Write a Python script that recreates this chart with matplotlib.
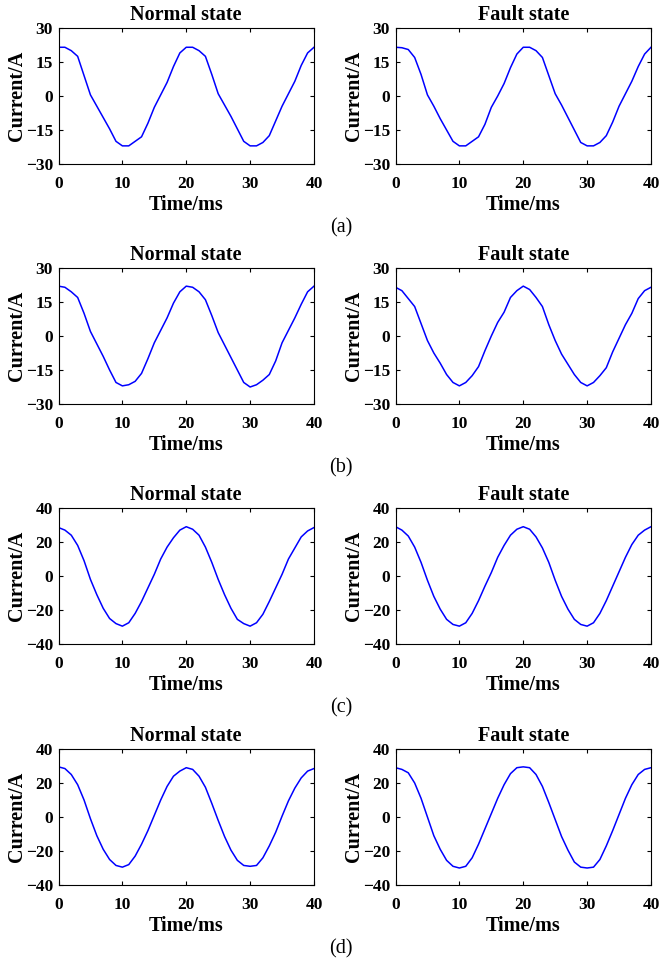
import matplotlib
matplotlib.use("Agg")
import matplotlib.pyplot as plt

plt.rcParams['font.family'] = ['Liberation Serif', 'DejaVu Serif']

# time axis, ms (1 ms steps)
time_ms = list(range(41))

# (a) currents, A
a_normal = [21.5, 21.5, 20.0, 17.5, 9.0, 0.5, -4.5, -9.5, -14.5, -20.0, -22.0,
            -22.0, -20.0, -18.0, -12.0, -5.0, 0.5, 6.0, 13.0, 19.0, 21.5,
            21.5, 20.0, 17.5, 9.5, 1.0, -4.0, -9.0, -14.5, -20.0, -22.0,
            -22.0, -20.5, -17.5, -11.0, -4.5, 1.0, 6.5, 13.5, 19.0, 21.5]
a_fault = [21.5, 21.3, 20.5, 17.0, 9.5, 0.5, -4.5, -10.0, -15.0, -20.0, -22.0,
           -22.0, -20.0, -18.0, -12.5, -5.0, 0.0, 5.5, 12.5, 18.5, 21.5,
           21.5, 20.0, 17.0, 9.0, 1.0, -4.0, -9.5, -15.0, -20.5, -22.0,
           -22.0, -20.5, -17.5, -11.5, -4.5, 1.0, 6.5, 13.0, 18.5, 21.5]

# (b)
b_normal = [22.0, 21.5, 19.5, 17.0, 10.0, 2.0, -3.5, -9.0, -15.0, -20.5, -22.0,
            -21.5, -20.0, -16.5, -10.0, -3.0, 2.5, 8.0, 14.5, 19.5, 22.0,
            21.5, 19.5, 16.0, 9.0, 1.5, -4.0, -9.5, -15.0, -20.5, -22.5,
            -21.5, -19.5, -17.0, -11.0, -3.0, 2.5, 8.0, 14.0, 19.5, 22.0]
b_fault = [21.5, 20.0, 16.5, 13.0, 5.5, -2.0, -7.5, -12.0, -17.0, -20.5, -22.0,
           -20.5, -17.5, -13.5, -6.5, 0.0, 6.0, 10.5, 17.0, 20.0, 22.0,
           20.5, 17.0, 13.0, 5.0, -2.0, -8.0, -12.5, -17.0, -20.5, -22.0,
           -20.5, -17.5, -14.0, -7.0, -1.0, 5.0, 10.0, 16.5, 20.0, 21.5]

# (c)
c_normal = [28.5, 27.0, 24.0, 18.0, 9.0, -2.0, -11.0, -19.0, -25.0, -28.0, -29.5,
            -27.5, -22.0, -15.0, -7.0, 1.0, 10.0, 17.0, 22.5, 27.0, 29.0,
            27.5, 24.0, 17.0, 8.0, -2.0, -11.0, -19.0, -25.5, -28.0, -29.5,
            -27.5, -22.5, -15.0, -7.0, 1.0, 10.0, 16.5, 23.0, 26.5, 28.5]
c_fault = [29.0, 27.0, 23.5, 17.0, 8.0, -2.5, -12.0, -19.5, -25.5, -28.5, -29.5,
           -27.5, -22.0, -14.5, -6.0, 2.0, 11.0, 18.0, 24.0, 27.5, 29.0,
           27.5, 23.0, 16.5, 8.0, -2.5, -12.0, -19.5, -25.5, -28.5, -29.5,
           -27.5, -22.0, -14.5, -6.0, 2.5, 11.0, 18.5, 24.0, 27.0, 29.0]

# (d)
d_normal = [29.5, 28.5, 25.0, 19.0, 10.0, -1.0, -11.0, -19.0, -25.0, -28.5, -29.5,
            -28.0, -23.0, -16.0, -8.0, 1.0, 10.0, 18.0, 24.0, 27.0, 29.0,
            28.0, 24.0, 17.5, 8.0, -2.0, -11.5, -19.5, -25.5, -28.5, -29.0,
            -28.5, -24.0, -17.0, -9.0, 0.5, 9.5, 17.0, 23.0, 27.0, 28.5]
d_fault = [29.0, 28.0, 26.0, 20.0, 11.0, 0.0, -11.0, -19.0, -25.5, -29.0, -30.0,
           -29.0, -24.0, -16.0, -7.0, 2.0, 11.0, 19.0, 25.5, 29.0, 29.5,
           29.0, 25.0, 18.0, 8.5, -1.5, -11.5, -19.5, -26.5, -29.5, -30.0,
           -29.5, -25.0, -17.0, -8.0, 1.5, 11.0, 19.0, 25.0, 28.0, 29.0]

rows = [(a_normal, a_fault), (b_normal, b_fault), (c_normal, c_fault), (d_normal, d_fault)]
row_labels = ['(a)', '(b)', '(c)', '(d)']
y_ticks = [[-30, -15, 0, 15, 30], [-30, -15, 0, 15, 30],
           [-40, -20, 0, 20, 40], [-40, -20, 0, 20, 40]]
titles = ['Normal state', 'Fault state']

W, H = 661, 964
fig = plt.figure(figsize=(W / 100, H / 100), dpi=100)

lefts = [58.5, 395.5]
width = 255.5
tops = [28, 268, 508, 749]
height = 136

for r, (series, ticks) in enumerate(zip(rows, y_ticks)):
    for c, vals in enumerate(series):
        ax = fig.add_axes([lefts[c] / W, 1 - (tops[r] + height) / H, width / W, height / H])
        ax.plot(time_ms, vals, color='#0000ff', linewidth=1.1)
        ax.set_xlim(0, 40)
        ax.set_ylim(ticks[0], ticks[-1])
        ax.set_xticks([0, 10, 20, 30, 40])
        ax.set_yticks(ticks)
        ax.tick_params(direction='in', top=True, right=True, length=3, width=0.8,
                       labelsize=12.5)
        ax.tick_params(axis='x', pad=8.5)
        ax.tick_params(axis='y', pad=4)
        for lab in ax.get_xticklabels() + ax.get_yticklabels():
            lab.set_fontweight('bold')
        ax.set_title(titles[c], fontsize=14.5, fontweight='bold', pad=5.5)
        ax.set_xlabel('Time/ms', fontsize=14.5, fontweight='bold', labelpad=2.5)
        ax.set_ylabel('Current/A', fontsize=14.5, fontweight='bold', labelpad=-1)
        for s in ax.spines.values():
            s.set_linewidth(0.8)
    fig.text(341 / W, 1 - (tops[r] + height + 64) / H, row_labels[r],
             ha='center', va='center', fontsize=14.5)

fig.savefig('out.png', dpi=100)
